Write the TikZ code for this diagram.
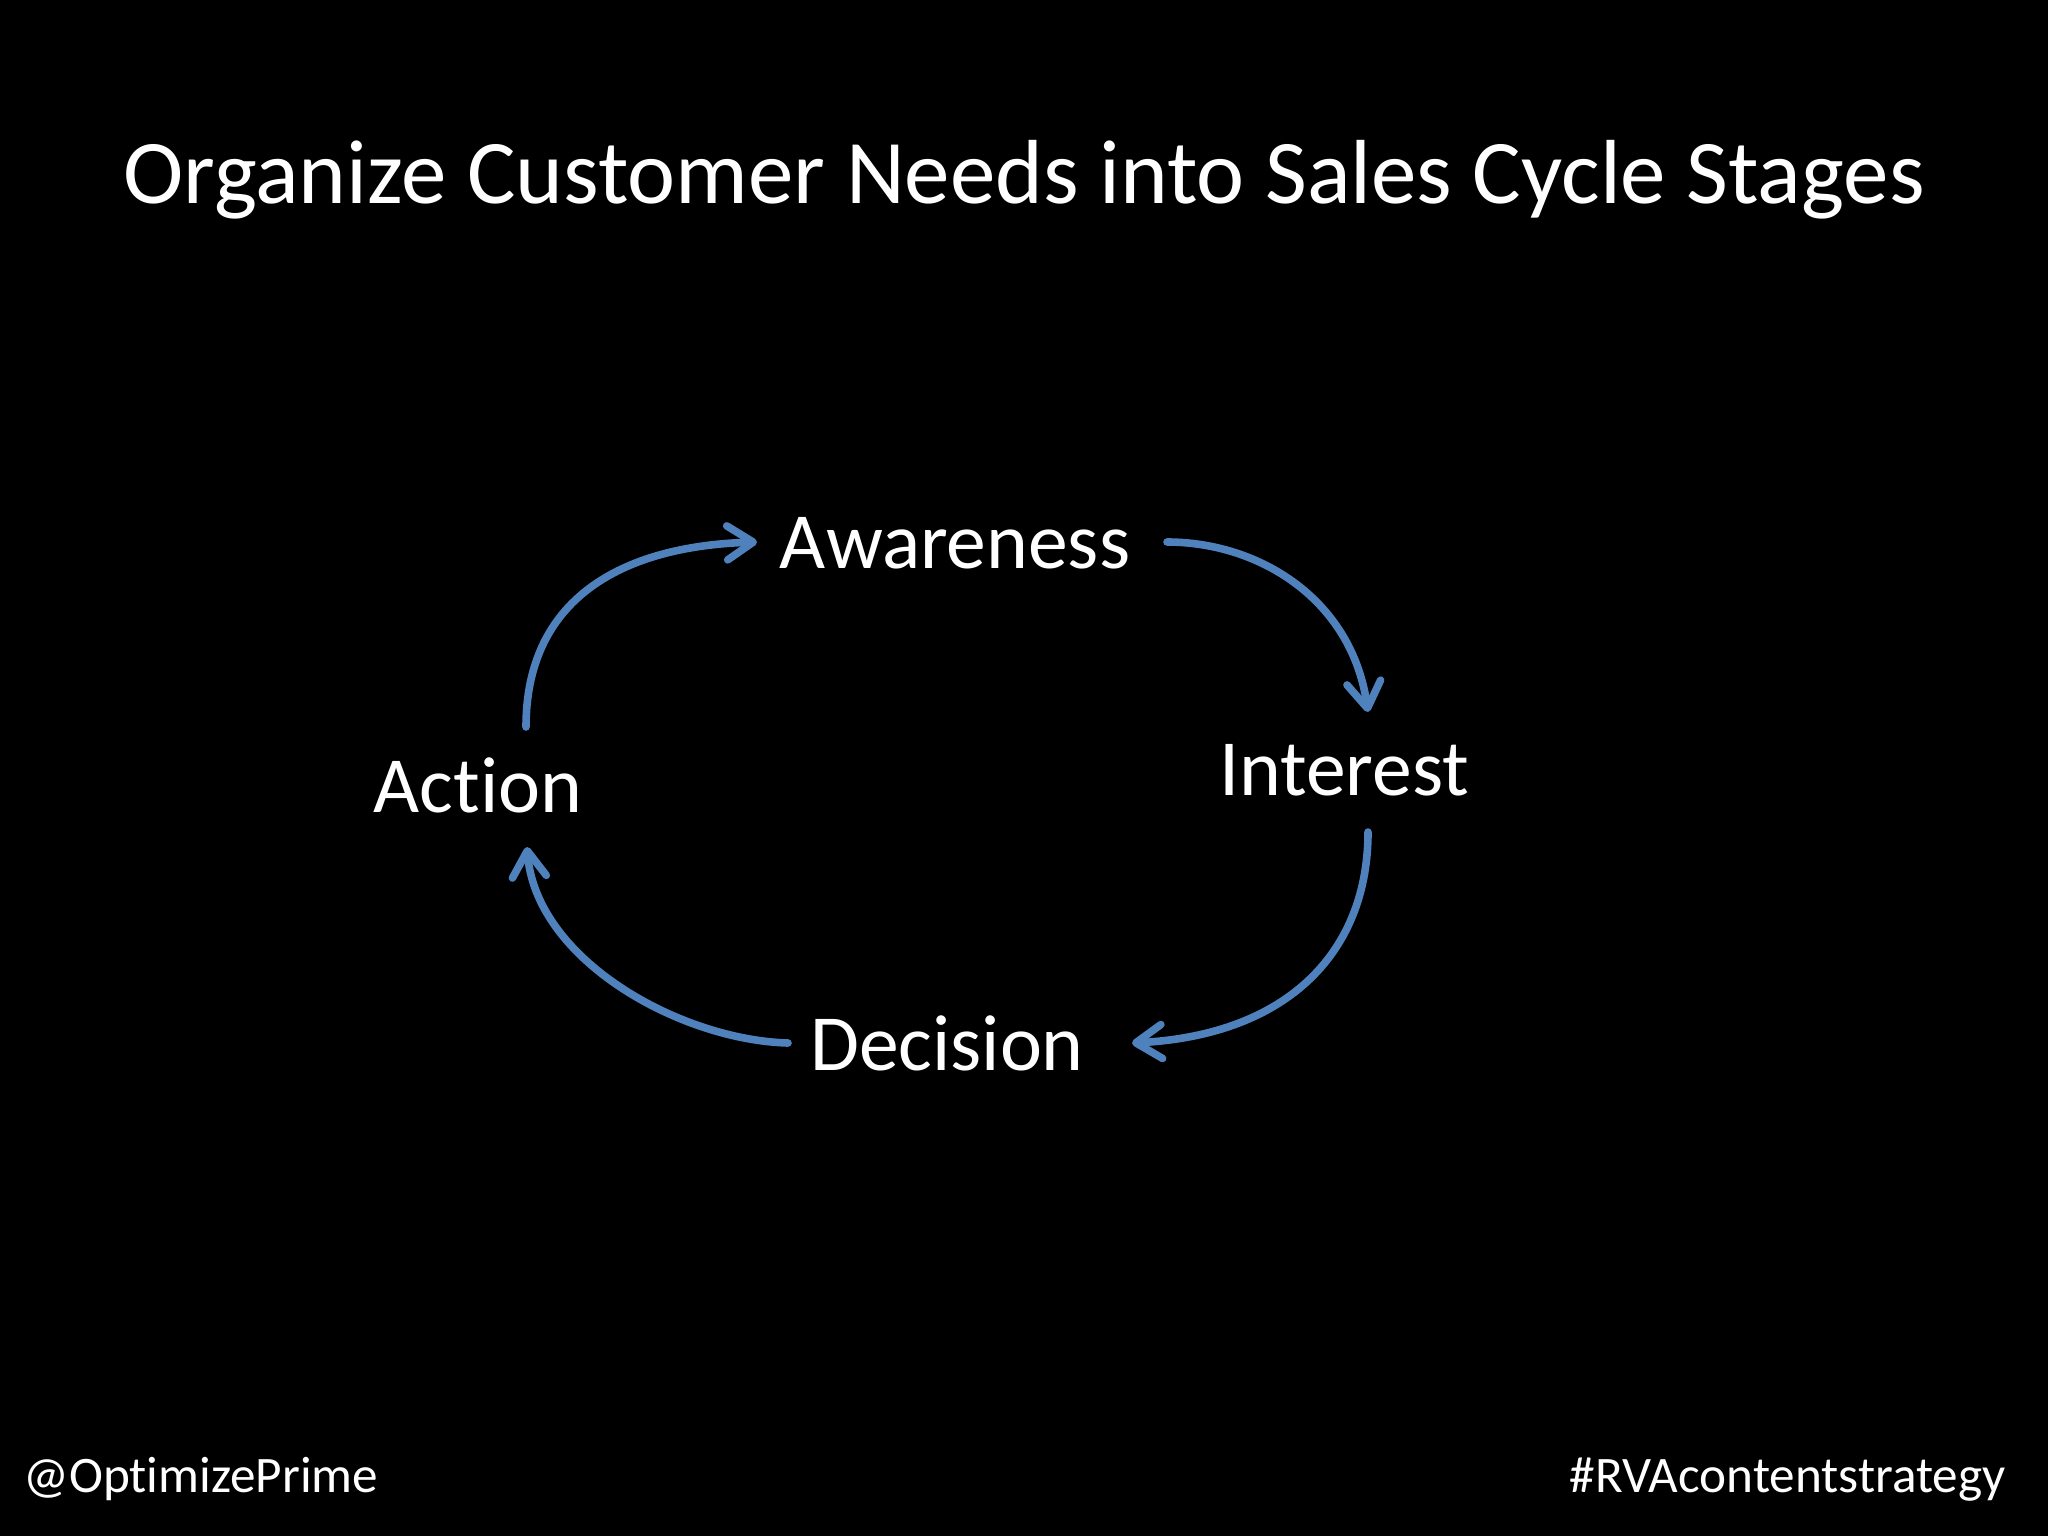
\documentclass[tikz,border=0pt]{standalone}
\usepackage{fontspec}
\setmainfont{Carlito}[Ligatures={NoCommon,NoRare,NoContextual},Contextuals=NoAlternate]
\usetikzlibrary{arrows.meta}
\definecolor{arrowblue}{HTML}{4F81BD}
\begin{document}
\begin{tikzpicture}[x=0.5pt,y=-0.5pt,
  titletext/.style={text=white,inner sep=0pt,anchor=base,font=\fontsize{45.5}{54}\selectfont},
  stagetext/.style={text=white,inner sep=0pt,anchor=base,font=\fontsize{39.8}{48}\selectfont},
  foottext/.style={text=white,inner sep=0pt,anchor=base,font=\fontsize{25.6}{31}\selectfont},
  cyclearrow/.style={draw=arrowblue,line width=3.8pt,line cap=round,
    -{Straight Barb[length=13pt,width=17pt,round]}}]
\fill[black] (0,0) rectangle (2048,1536);
\useasboundingbox (0,0) rectangle (2048,1536);
\node[titletext] (title) at (1024,203) {Organize Customer Needs into Sales Cycle Stages};
\node[stagetext] (awareness) at (955,568) {Awareness};
\node[stagetext] (interest) at (1344,795) {Interest};
\node[stagetext] (decision) at (947,1070) {Decision};
\node[stagetext] (action) at (478,812) {Action};
\node[foottext,anchor=base west] (handle) at (23,1492) {@OptimizePrime};
\node[foottext,anchor=base east] (hashtag) at (2006,1492) {\#RVAcontentstrategy};
\coordinate (a1s) at (526,727);
\coordinate (a1e) at (757,542);
\coordinate (a2s) at (1167,542);
\coordinate (a2e) at (1368,712);
\coordinate (a3s) at (1368,832);
\coordinate (a3e) at (1132,1043);
\coordinate (a4s) at (788,1043);
\coordinate (a4e) at (527,847);
\draw[cyclearrow] (a1s) .. controls (526,600) and (620,546) .. (a1e);
\draw[cyclearrow] (a2s) .. controls (1260,542) and (1352,600) .. (a2e);
\draw[cyclearrow] (a3s) .. controls (1368,950) and (1290,1035) .. (a3e);
\draw[cyclearrow] (a4s) .. controls (680,1040) and (536,960) .. (a4e);
\end{tikzpicture}
\end{document}
